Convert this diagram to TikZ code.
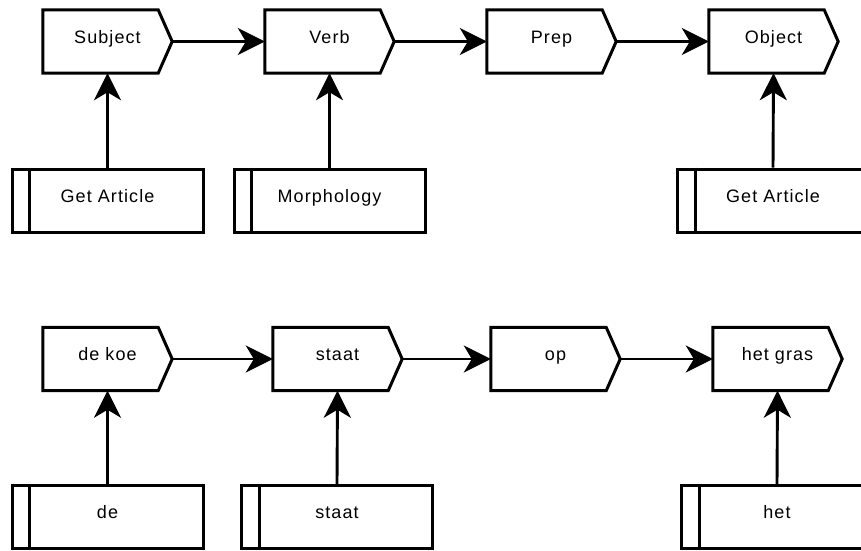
\documentclass[tikz,border=0pt]{standalone}
\usepackage{fontspec}
\setmainfont{Liberation Sans}[LetterSpace=6]
\usetikzlibrary{arrows.meta}
\begin{document}
\begin{tikzpicture}[x=1pt,y=-1pt,
  lbl/.style={inner sep=0pt, text height=6pt, text depth=3pt, font=\fontsize{18}{21}\selectfont},
  chev/.style={lbl, minimum width=129pt, minimum height=63pt},
  sub/.style={lbl, draw, line width=3pt, minimum width=191pt, minimum height=63pt},
  outline/.style={line width=3pt, line join=miter},
  arr/.style={line width=2.9pt, -{Stealth[length=27pt, width=27pt, inset=8pt]}}
]
\path[use as bounding box, clip] (0,0) rectangle (861,550);
\fill[white] (0,0) rectangle (861,550);

% top row
\node[chev] (subj) at (107.5,41.5) {Subject};
\node[chev] (verb) at (329.5,41.5) {Verb};
\node[chev] (prep) at (551.5,41.5) {Prep};
\node[chev] (obj)  at (773.5,41.5) {Object};
\node[sub] (ga1)  at (107.5,200.5) {Get Article};
\node[sub] (morph) at (329.5,200.5) {Morphology};
\node[sub] (ga2)  at (773,200.5) {Get Article};

% bottom row
\node[chev] (koe)  at (107.5,359) {de koe};
\node[chev] (staat) at (337.5,359) {staat};
\node[chev] (op)   at (555.5,359) {op};
\node[chev] (gras) at (777.5,359) {het gras};
\node[sub] (de)   at (107.5,517) {de};
\node[sub] (staatb) at (337,517) {staat};
\node[sub] (het)  at (777,517) {het};

\foreach \n in {subj,verb,prep,obj,koe,staat,op,gras}
  \draw[outline] (\n.north west) -- ([xshift=-14pt]\n.north east) -- (\n.east)
     -- ([xshift=-14pt]\n.south east) -- (\n.south west) -- cycle;

\foreach \n in {ga1,morph,ga2,de,staatb,het}
  \draw[line width=3pt] ([xshift=19pt]\n.north west) -- ([xshift=19pt]\n.south west);

\draw[arr] (subj.east) -- (verb.west);
\draw[arr] (verb.east) -- (prep.west);
\draw[arr] (prep.east) -- (obj.west);
\draw[arr] (ga1.north) -- (subj.south);
\draw[arr] (morph.north) -- (verb.south);
\draw[arr] (ga2.north) -- (obj.south);

\draw[arr] (koe.east) -- (staat.west);
\draw[arr] (staat.east) -- (op.west);
\draw[arr] (op.east) -- (gras.west);
\draw[arr] (de.north) -- (koe.south);
\draw[arr] (staatb.north) -- (staat.south);
\draw[arr] (het.north) -- (gras.south);
\end{tikzpicture}
\end{document}
